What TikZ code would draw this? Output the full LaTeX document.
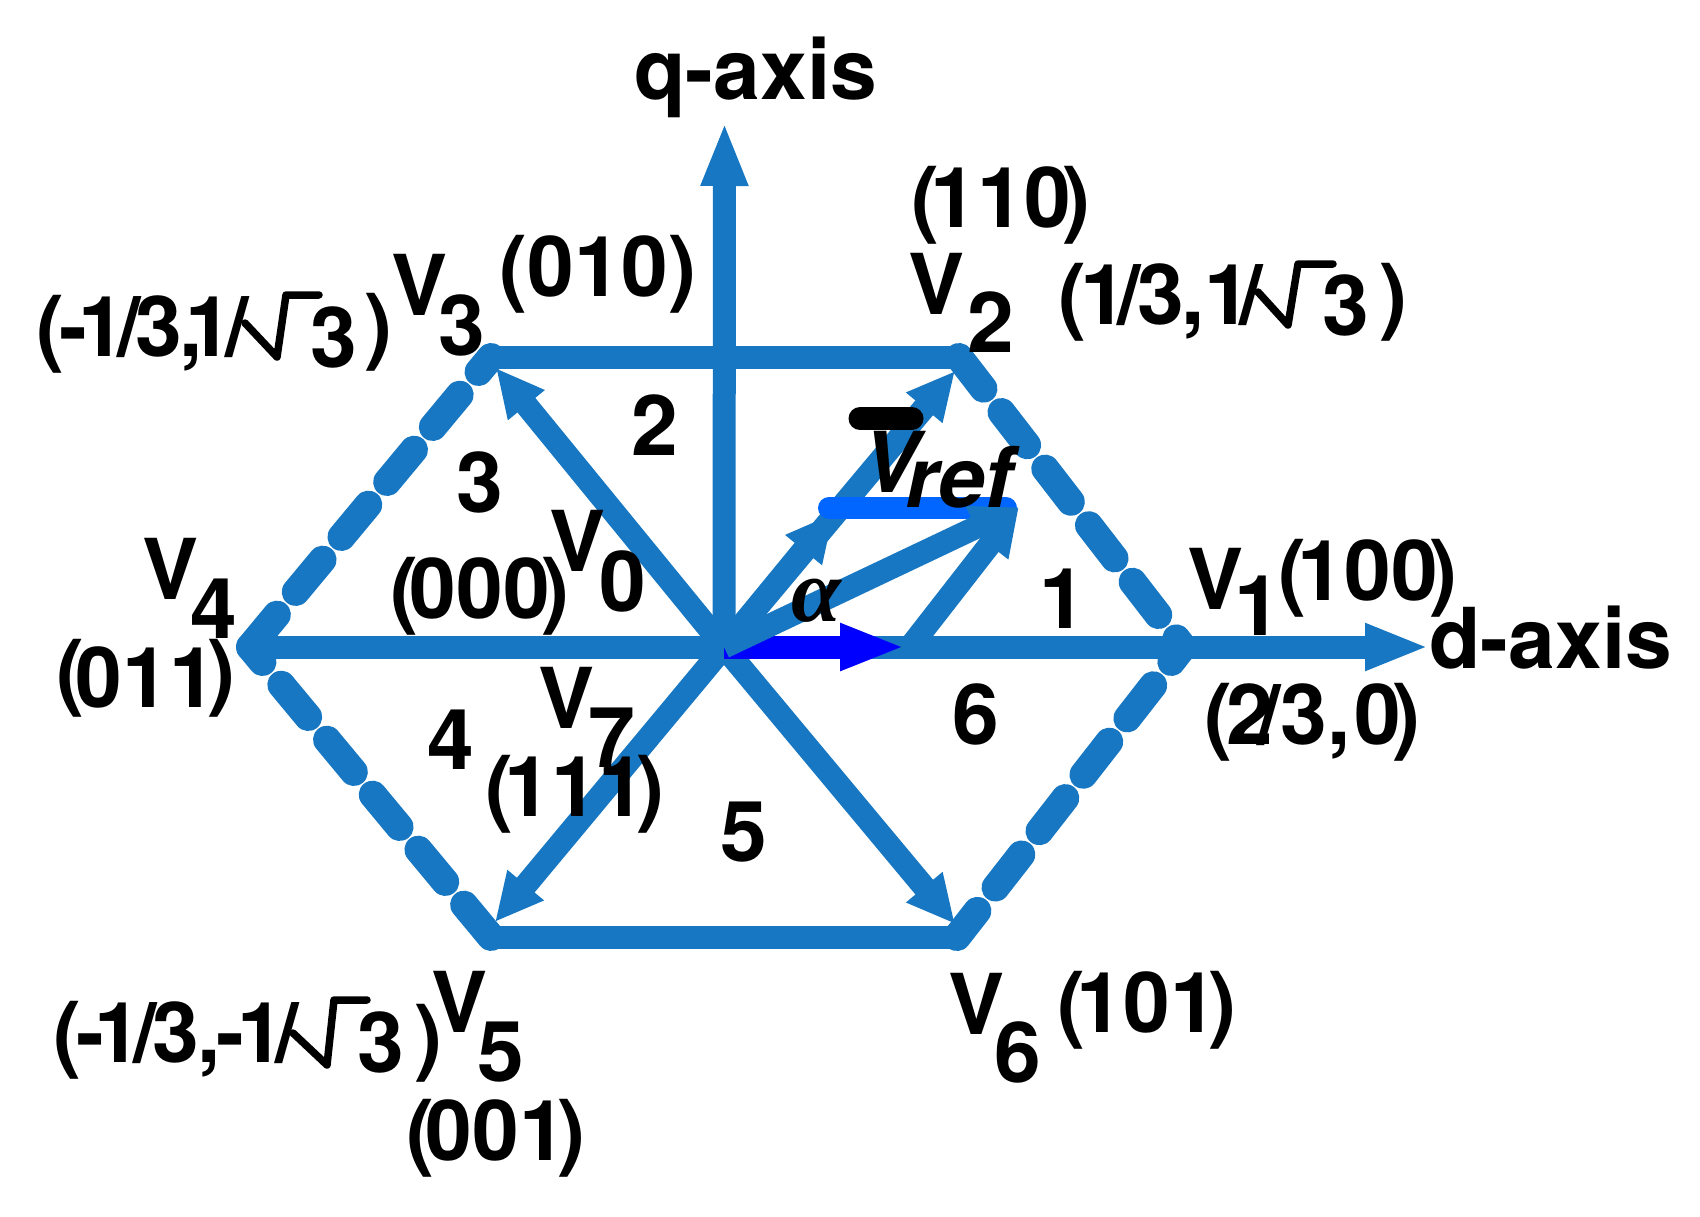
\documentclass[tikz,border=0pt]{standalone}
\usepackage{fontspec}
\setmainfont{TeX Gyre Heros}
\newfontfamily\alphafont{Liberation Serif}
\usetikzlibrary{arrows.meta}
\definecolor{hexblue}{HTML}{1777C3}
\definecolor{refblue}{HTML}{0066FF}
\definecolor{purblue}{HTML}{0000FF}
\newcommand{\PP}[1]{(\kern-9pt #1\kern-9pt)}
\newcommand{\fsz}{\fontsize{84}{90}\selectfont\bfseries}
\tikzset{
  solidedge/.style={draw=hexblue,line width=23pt,line cap=round},
  dashedge/.style={draw=hexblue,line width=28pt,line cap=round,dash pattern=on 42pt off 29.5pt},
  axisv/.style={draw=hexblue,line width=23pt,-{Triangle[length=64pt,width=43pt]}},
  vect/.style={draw=hexblue,line width=23pt,-{Triangle[length=48pt,width=44pt]}},
  txt/.style={inner sep=0pt,outer sep=0pt,anchor=base,font=\fsz,text=black},
  txtw/.style={inner sep=0pt,outer sep=0pt,anchor=base west,font=\fsz,text=black},
  radical/.style={draw=black,line width=7.5pt,line cap=round,line join=round}
}
\begin{document}
\begin{tikzpicture}[x=1pt,y=-1pt]
\useasboundingbox (0,0) rectangle (1700,1216);
\coordinate (O) at (724,647);
\coordinate (P1) at (1183,647);
\coordinate (P2) at (959,357);
\coordinate (P3) at (491,357);
\coordinate (P4) at (250,647);
\coordinate (P5) at (491,937);
\coordinate (P6) at (957,937);
\coordinate (dtip) at (1429,647);
\coordinate (qtip) at (724.5,122);
\coordinate (t2) at (955,371);
\coordinate (t2m) at (834,513);
\coordinate (t3) at (496,368);
\coordinate (t5) at (495,922);
\coordinate (t6) at (955,924);
\coordinate (tref) at (1019,507);
\coordinate (tblue) at (905,647);
\coordinate (sb) at (910,647);
\coordinate (rl) at (829,508);
\coordinate (rr) at (1006,508);
\coordinate (bl) at (860,418.5);
\coordinate (br) at (912,418.5);
% hexagon
\draw[solidedge] (P3) -- (P2);
\draw[solidedge] (P5) -- (P6);
\draw[dashedge,dash phase=2pt] (P2) -- (P1);
\draw[dashedge,dash phase=23pt] (P1) -- (P6);
\draw[dashedge,dash phase=22.5pt] (P3) -- (P4);
\draw[dashedge,dash phase=22.5pt] (P4) -- (P5);
% axes
\draw[axisv] (P4) -- (dtip);
\draw[axisv] (O) -- (qtip);
% vectors
\draw[vect] (O) -- (t3);
\draw[vect] (O) -- (t5);
\draw[vect] (O) -- (t6);
\draw[vect] (O) -- (t2);
\draw[vect] (O) -- (t2m);
\draw[draw=purblue,line width=23pt,-{Triangle[length=65pt,width=43pt]}] (O) -- (tblue);
\draw[draw=refblue,line width=22pt,line cap=round] (rl) -- (rr);
\draw[vect] (O) -- (tref);
\draw[vect] (sb) -- (tref);
\draw[draw=black,line width=23pt,line cap=round] (bl) -- (br);
% axis titles
\node[txt] (qlab) at (756,99) {q-axis};
\node[txt] (dlab) at (1551,668) {d-axis};
% sector numbers
\node[txt] (s1) at (1063,628) {1};
\node[txt] (s2) at (655,455) {2};
\node[txt] (s3) at (480,512) {3};
\node[txt] (s4) at (451,769) {4};
\node[txt] (s5) at (744,861) {5};
\node[txt] (s6) at (976,744) {6};
% vertex labels
\node[txt] (v1a) at (1215,609) {V};
\node[txt] (v1b) at (1258,635) {1};
\node[txt] (v1c) at (1368,600) {\PP{100}};
\node[txtw] (v1d) at (1204.5,744) {(\kern-6.5pt 2\kern-15pt/\kern-1pt 3\kern1pt,\kern3pt 0\kern-8pt)};
\node[txt] (v2a) at (937,314) {V};
\node[txt] (v2b) at (991,352) {2};
\node[txt] (v2c) at (1001,227) {\PP{110}};
\node[txtw] (v2d) at (1058.5,324) {(\kern-6.5pt 1\kern-9pt/\kern-4pt 3\kern-2pt,\kern-1pt 1\kern-11pt/};
\draw[radical] (1258,292) -- (1288,325) -- (1298,264) -- (1333,264);
\node[txt] (v2e) at (1345.5,335) {3};
\node[txt] (v2f) at (1393,324) {)};
\node[txt] (v3a) at (420,315) {V};
\node[txt] (v3b) at (462,355) {3};
\node[txt] (v3c) at (598,296) {(010)};
\node[txtw] (v3d) at (36.5,356) {(\kern-5pt -\kern-9pt 1\kern-8pt/\kern-5pt 3\kern-3pt,\kern-17pt 1\kern-7pt/};
\draw[radical] (245,323) -- (277,357) -- (286,295) -- (319,295);
\node[txt] (v3e) at (334,367) {3};
\node[txt] (v3f) at (378,354) {)};
\node[txt] (v4a) at (171,599) {V};
\node[txt] (v4b) at (214,638) {4};
\node[txt] (v4c) at (146,707) {\raisebox{7pt}{(}\kern-9pt 011\kern-9pt\raisebox{7pt}{)}};
\node[txt] (v5a) at (460,1032) {V};
\node[txt] (v5b) at (501,1081) {5};
\node[txt] (v5c) at (496,1160) {\PP{001}};
\node[txtw] (v5d) at (53.5,1062) {(\kern-5.5pt -\kern-9pt 1\kern-8pt/\kern-5pt 3\kern-1pt,\kern-5pt -\kern-7pt 1\kern-8pt/};
\draw[radical] (293,1033) -- (327,1065) -- (334,1000) -- (367,1000);
\node[txt] (v5e) at (381,1072) {3};
\node[txt] (v5f) at (428,1065) {)};
\node[txt] (v6a) at (977,1034) {V};
\node[txt] (v6b) at (1018,1082) {6};
\node[txt] (v6c) at (1147,1032) {\PP{101}};
\node[txt] (v0a) at (578,571) {V};
\node[txt] (v0b) at (623,611) {0};
\node[txt] (v0c) at (480,618) {\PP{000}};
\node[txt] (v7a) at (567,728) {V};
\node[txt] (v7b) at (612,767) {7};
\node[txt] (v7c) at (575,816) {\PP{111}};
% reference vector
\node[txt,font=\fsz\itshape] (vra) at (891,492) {V};
\node[txt,font=\fsz\itshape] (vrb) at (959,507) {ref};
\node[txt,font={\fontsize{90}{90}\selectfont\bfseries\itshape\alphafont}] (alph) at (816,621) {α};
\end{tikzpicture}
\end{document}
